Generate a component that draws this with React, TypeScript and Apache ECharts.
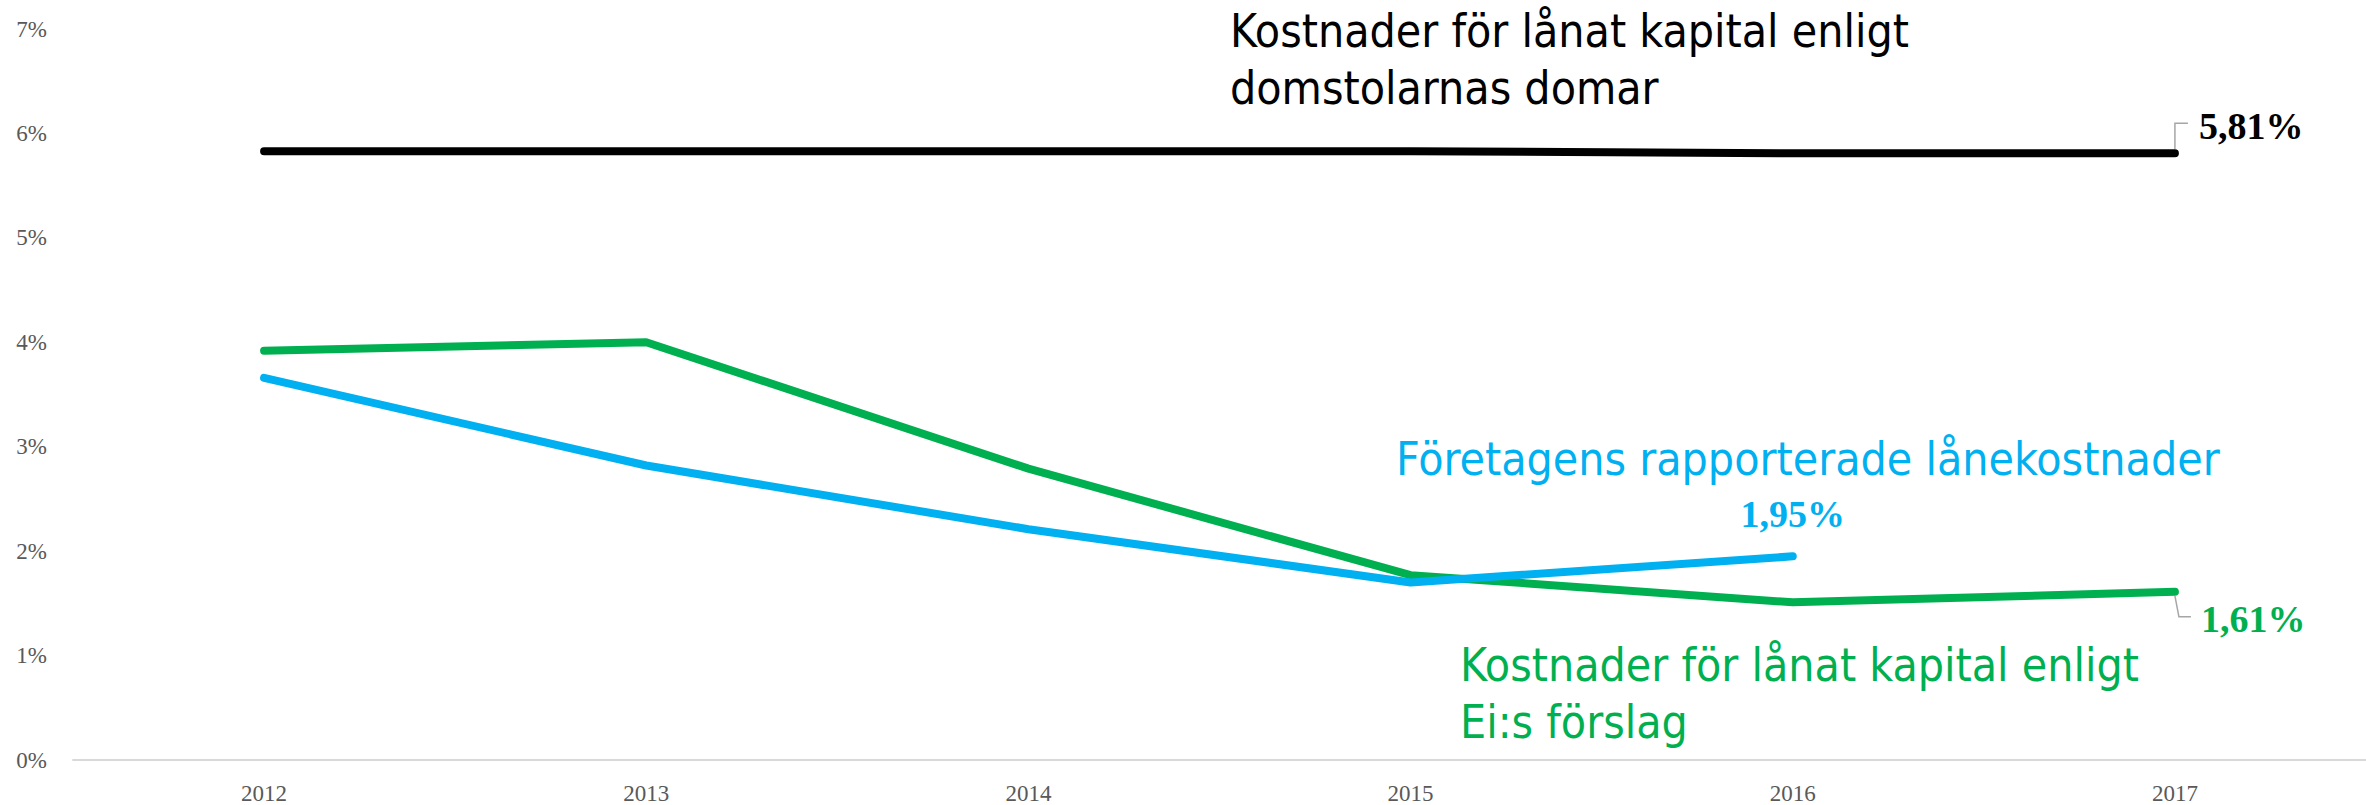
import React, { useEffect, useRef } from "react";
import * as echarts from "echarts";

const years = ["2012", "2013", "2014", "2015", "2016", "2017"];
const domstolarnasDomar = [5.83, 5.83, 5.83, 5.83, 5.81, 5.81];
const eiForslag = [3.92, 4.0, 2.79, 1.77, 1.51, 1.61];
const rapporterade = [3.66, 2.82, 2.21, 1.7, 1.95];

const topNote = ["Kostnader för lånat kapital enligt", "domstolarnas domar"];
const greenNote = ["Kostnader för lånat kapital enligt", "Ei:s förslag"];
const blueNote = ["Företagens rapporterade lånekostnader"];

const BLACK = "#000000";
const GREEN = "#00b050";
const BLUE = "#00b0f0";
const SERIF = "'Liberation Serif', 'DejaVu Serif', serif";
const SANS = "'DejaVu Sans Condensed', 'Liberation Sans', Arial, sans-serif";

const fmt = (v: number) => v.toFixed(2).replace(".", ",") + "%";

export default function App() {
  const ref = useRef<HTMLDivElement>(null);
  useEffect(() => {
    if (!ref.current) return;
    const chart = echarts.init(ref.current, null, { renderer: "svg", width: 2366, height: 805 });
    const lineSeries = (name: string, data: number[], color: string) => ({
      name,
      type: "line",
      data,
      symbol: "none",
      lineStyle: { color, width: 8, cap: "round", join: "round" },
      itemStyle: { color },
    });
    chart.setOption({
      animation: false,
      grid: { left: 73, top: 29, width: 2304, bottom: 45 },
      xAxis: {
        type: "category",
        data: years,
        boundaryGap: true,
        axisLine: { lineStyle: { color: "#d9d9d9", width: 2 } },
        axisTick: { show: false },
        axisLabel: { fontFamily: SERIF, fontSize: 23, color: "#595959", margin: 22 },
      },
      yAxis: {
        type: "value",
        min: 0,
        max: 7,
        interval: 1,
        axisLine: { show: false },
        axisTick: { show: false },
        splitLine: { show: false },
        axisLabel: { formatter: "{value}%", fontFamily: SERIF, fontSize: 23, color: "#595959", margin: 26 },
      },
      series: [
        lineSeries("Ei:s förslag", eiForslag, GREEN),
        lineSeries("Företagens rapporterade lånekostnader", rapporterade, BLUE),
        lineSeries("Domstolarnas domar", domstolarnasDomar, BLACK),
      ],
    });

    const px = (i: number, v: number) => chart.convertToPixel({ gridIndex: 0 }, [i, v]) as number[];
    const blackLast = domstolarnasDomar.length - 1;
    const greenLast = eiForslag.length - 1;
    const blueLast = rapporterade.length - 1;
    const pb = px(blackLast, domstolarnasDomar[blackLast]);
    const pg = px(greenLast, eiForslag[greenLast]);
    const pu = px(blueLast, rapporterade[blueLast]);

    const noteText = (lines: string[], x: number, y: number, color: string) =>
      lines.map((t, k) => ({
        type: "text",
        style: {
          text: t,
          x,
          y: y + k * 57,
          fill: color,
          fontFamily: SANS,
          fontSize: 46,
          align: "left",
          verticalAlign: "middle",
        },
      }));

    const valueText = (t: string, x: number, y: number, color: string, align: string) => ({
      type: "text",
      style: {
        text: t,
        x,
        y,
        fill: color,
        fontFamily: SERIF,
        fontWeight: "bold",
        fontSize: 38,
        align,
        verticalAlign: "middle",
      },
    });

    chart.setOption({
      graphic: [
        ...noteText(topNote, 1230, 31, BLACK),
        ...noteText(greenNote, 1460, 665, GREEN),
        ...noteText(blueNote, 1396, 459, BLUE),
        {
          type: "polyline",
          shape: { points: [[pb[0], pb[1] - 4], [pb[0], pb[1] - 30], [pb[0] + 13, pb[1] - 30]] },
          style: { stroke: "#a6a6a6", lineWidth: 1.5, fill: "none" },
        },
        {
          type: "polyline",
          shape: { points: [[pg[0], pg[1] + 4], [pg[0] + 4, pg[1] + 25], [pg[0] + 16, pg[1] + 25]] },
          style: { stroke: "#a6a6a6", lineWidth: 1.5, fill: "none" },
        },
        valueText(fmt(domstolarnasDomar[blackLast]), pb[0] + 24, pb[1] - 27, BLACK, "left"),
        valueText(fmt(eiForslag[greenLast]), pg[0] + 26, pg[1] + 27, GREEN, "left"),
        valueText(fmt(rapporterade[blueLast]), pu[0], pu[1] - 42, BLUE, "center"),
      ],
    });
    return () => chart.dispose();
  }, []);
  return (
    <div
      ref={ref}
      style={{ position: "absolute", left: 0, top: 0, width: 2366, height: 805, background: "#fff" }}
    />
  );
}
